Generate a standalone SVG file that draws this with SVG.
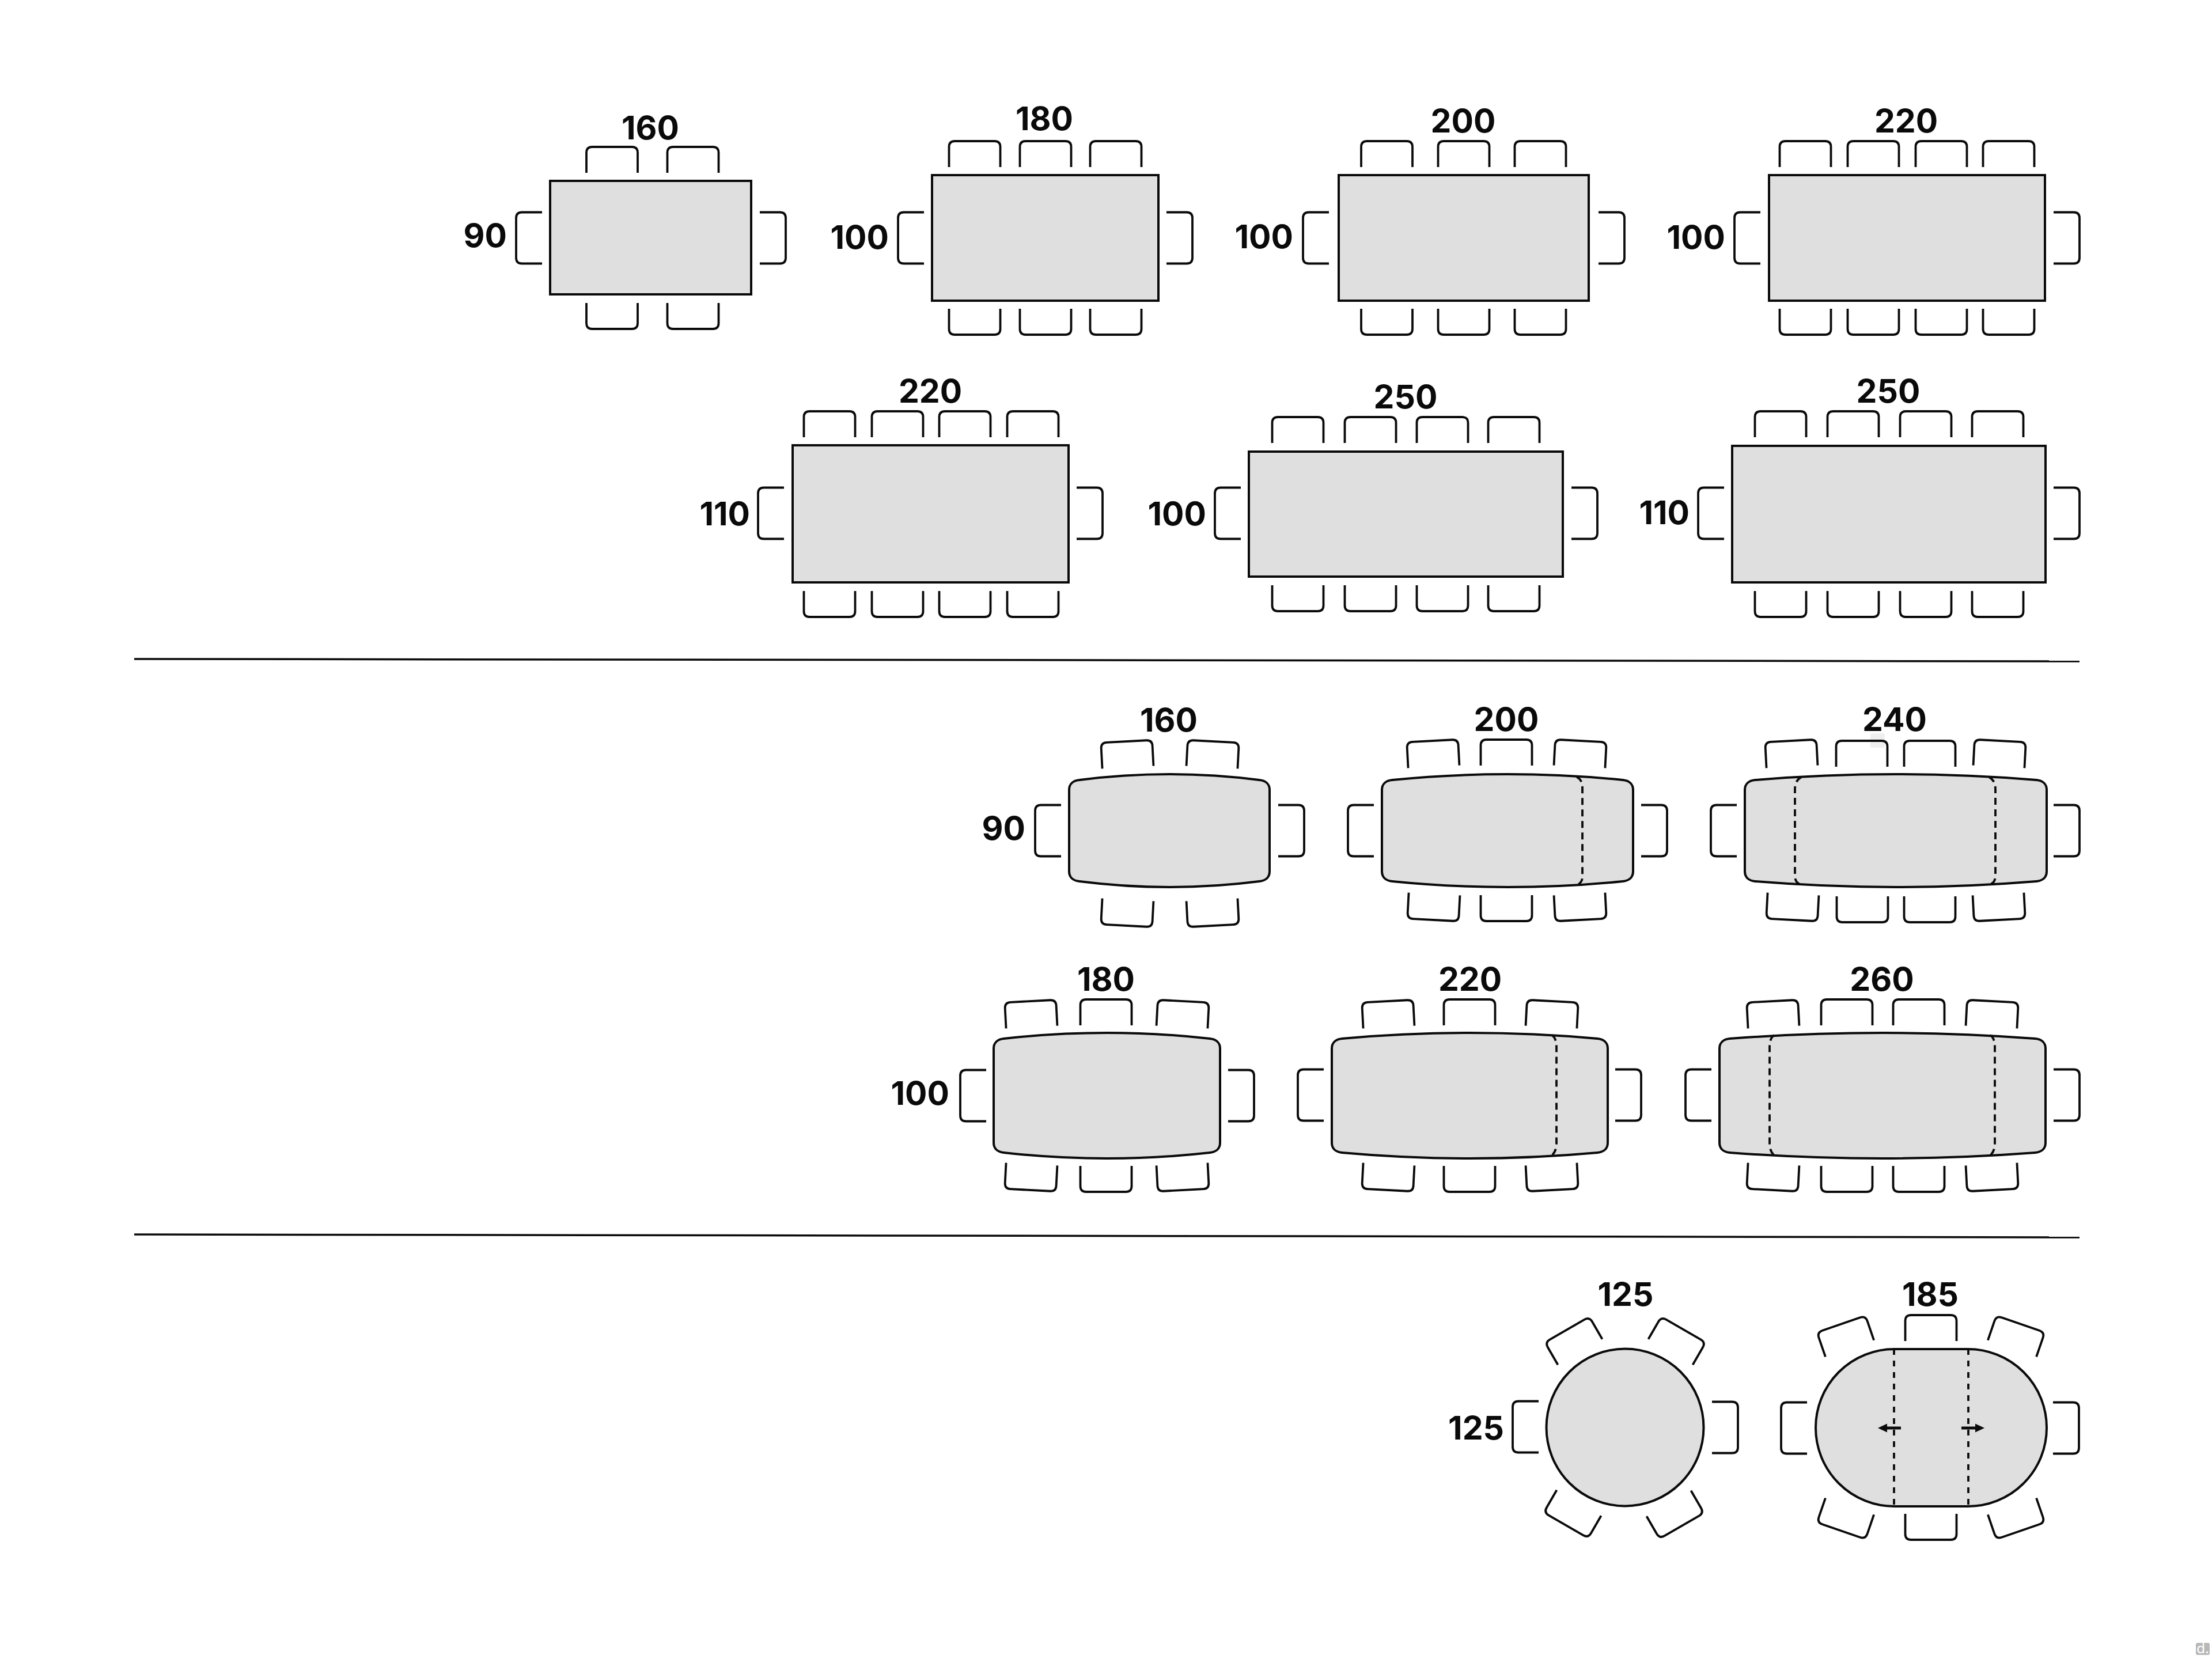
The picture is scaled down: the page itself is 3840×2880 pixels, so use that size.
<svg xmlns="http://www.w3.org/2000/svg" width="3840" height="2880" viewBox="0 0 3840 2880">
<style>
.t{fill:#dfdfdf;stroke:#0a0a0a;stroke-width:4}
.c{fill:none;stroke:#0a0a0a;stroke-width:3.8}
.d{fill:none;stroke:#0a0a0a;stroke-width:3.8;stroke-dasharray:12 8}
.s{fill:none;stroke:#0a0a0a;stroke-width:3.5}
text{font-family:"Inter","Liberation Sans",sans-serif;font-weight:700;font-size:57px;fill:#0a0a0a}
.m{text-anchor:middle}
.e{text-anchor:end}
text.w{font-weight:400;font-size:24px;text-anchor:middle;fill:#fff}
</style>
<defs>
<path id="c" class="c" d="M-44.5 0V-35Q-44.5 -45 -34.5 -45H34.5Q44.5 -45 44.5 -35V0"/>
</defs>
<rect width="3840" height="2880" fill="#fff"/>
<g id="watermarks">
<rect x="3812" y="2852" width="24" height="21" rx="3" fill="#b8b8b8"/>
<text class="w" x="3824" y="2870">d.</text>
<rect x="3247" y="1273" width="25" height="25" rx="3" fill="#efefef"/>
</g>
<g id="separators">
<path class="s" d="M233 1144L3610 1148"/>
<path class="s" d="M233 2143L3610 2148"/>
</g>
<g id="rect-160x90">
<rect class="t" x="955" y="314" width="349" height="197"/>
<use href="#c" transform="translate(1062.5 300)"/><use href="#c" transform="translate(1203 300)"/>
<use href="#c" transform="translate(1062.5 526) rotate(180)"/><use href="#c" transform="translate(1203 526) rotate(180)"/>
<use href="#c" transform="translate(941 413) rotate(-90)"/><use href="#c" transform="translate(1319 413) rotate(90)"/>
<text class="m" x="1129" y="242">160</text><text class="e" x="880" y="429">90</text>
</g>
<g id="rect-180x100">
<rect class="t" x="1618" y="304" width="393" height="218"/>
<use href="#c" transform="translate(1692 290)"/><use href="#c" transform="translate(1815 290)"/><use href="#c" transform="translate(1937 290)"/>
<use href="#c" transform="translate(1692 536) rotate(180)"/><use href="#c" transform="translate(1815 536) rotate(180)"/><use href="#c" transform="translate(1937 536) rotate(180)"/>
<use href="#c" transform="translate(1604 413) rotate(-90)"/><use href="#c" transform="translate(2025 413) rotate(90)"/>
<text class="m" x="1813" y="226">180</text><text class="e" x="1543" y="432">100</text>
</g>
<g id="rect-200x100">
<rect class="t" x="2324" y="304" width="434" height="218"/>
<use href="#c" transform="translate(2407.500 290)"/><use href="#c" transform="translate(2541 290)"/><use href="#c" transform="translate(2674 290)"/>
<use href="#c" transform="translate(2407.500 536) rotate(180)"/><use href="#c" transform="translate(2541 536) rotate(180)"/><use href="#c" transform="translate(2674 536) rotate(180)"/>
<use href="#c" transform="translate(2307 413) rotate(-90)"/><use href="#c" transform="translate(2775 413) rotate(90)"/>
<text class="m" x="2540" y="230">200</text><text class="e" x="2245" y="431">100</text>
</g>
<g id="rect-220x100">
<rect class="t" x="3071" y="304" width="479" height="218"/>
<use href="#c" transform="translate(3134 290)"/><use href="#c" transform="translate(3252 290)"/><use href="#c" transform="translate(3370 290)"/><use href="#c" transform="translate(3487 290)"/>
<use href="#c" transform="translate(3134 536) rotate(180)"/><use href="#c" transform="translate(3252 536) rotate(180)"/><use href="#c" transform="translate(3370 536) rotate(180)"/><use href="#c" transform="translate(3487 536) rotate(180)"/>
<use href="#c" transform="translate(3056 413) rotate(-90)"/><use href="#c" transform="translate(3565 413) rotate(90)"/>
<text class="m" x="3309" y="230">220</text><text class="e" x="2995" y="432">100</text>
</g>
<g id="rect-220x110">
<rect class="t" x="1376" y="773" width="479" height="238"/>
<use href="#c" transform="translate(1440 759)"/><use href="#c" transform="translate(1558 759)"/><use href="#c" transform="translate(1675 759)"/><use href="#c" transform="translate(1793 759)"/>
<use href="#c" transform="translate(1440 1026) rotate(180)"/><use href="#c" transform="translate(1558 1026) rotate(180)"/><use href="#c" transform="translate(1675 1026) rotate(180)"/><use href="#c" transform="translate(1793 1026) rotate(180)"/>
<use href="#c" transform="translate(1361 891) rotate(-90)"/><use href="#c" transform="translate(1869 891) rotate(90)"/>
<text class="m" x="1615" y="699">220</text><text class="e" x="1302" y="912">110</text>
</g>
<g id="rect-250x100">
<rect class="t" x="2168" y="784" width="545" height="217"/>
<use href="#c" transform="translate(2253 769)"/><use href="#c" transform="translate(2379 769)"/><use href="#c" transform="translate(2504 769)"/><use href="#c" transform="translate(2628 769)"/>
<use href="#c" transform="translate(2253 1016) rotate(180)"/><use href="#c" transform="translate(2379 1016) rotate(180)"/><use href="#c" transform="translate(2504 1016) rotate(180)"/><use href="#c" transform="translate(2628 1016) rotate(180)"/>
<use href="#c" transform="translate(2154 891) rotate(-90)"/><use href="#c" transform="translate(2728 891) rotate(90)"/>
<text class="m" x="2440" y="709">250</text><text class="e" x="2094" y="912">100</text>
</g>
<g id="rect-250x110">
<rect class="t" x="3007" y="774" width="544" height="237"/>
<use href="#c" transform="translate(3091 759)"/><use href="#c" transform="translate(3217 759)"/><use href="#c" transform="translate(3343 759)"/><use href="#c" transform="translate(3468 759)"/>
<use href="#c" transform="translate(3091 1026) rotate(180)"/><use href="#c" transform="translate(3217 1026) rotate(180)"/><use href="#c" transform="translate(3343 1026) rotate(180)"/><use href="#c" transform="translate(3468 1026) rotate(180)"/>
<use href="#c" transform="translate(2993 891) rotate(-90)"/><use href="#c" transform="translate(3565 891) rotate(90)"/>
<text class="m" x="3278" y="699">250</text><text class="e" x="2933" y="910">110</text>
</g>
<g id="barrel-160x90">
<path class="t" d="M1856 1371c0-10 7-16 18-17q156-20 312 0c11 1 18 7 18 17v142c0 10-7 16-18 17q-156 20-312 0c-11-1-18-7-18-17z"/>
<use href="#c" transform="translate(1958 1332) rotate(-3)"/><use href="#c" transform="translate(2104 1332) rotate(3)"/>
<use href="#c" transform="translate(1958 1562) rotate(183)"/><use href="#c" transform="translate(2104 1562) rotate(177)"/>
<use href="#c" transform="translate(1842 1442) rotate(-90)"/><use href="#c" transform="translate(2219 1442) rotate(90)"/>
<text class="m" x="2029" y="1270">160</text><text class="e" x="1780" y="1458">90</text>
</g>
<g id="barrel-200x90">
<path class="t" d="M2399 1371c0-10 7-16 18-17q200-20 400 0c11 1 18 7 18 17v142c0 10-7 16-18 17q-200 20-400 0c-11-1-18-7-18-17z"/>
<path class="d" d="M2737 1349Q2747 1353 2747 1368V1522Q2747 1532 2738 1536"/>
<use href="#c" transform="translate(2489 1331) rotate(-3)"/><use href="#c" transform="translate(2615 1329)"/><use href="#c" transform="translate(2742 1331) rotate(3)"/>
<use href="#c" transform="translate(2490 1552) rotate(183)"/><use href="#c" transform="translate(2615 1554) rotate(180)"/><use href="#c" transform="translate(2742 1552) rotate(177)"/>
<use href="#c" transform="translate(2385 1442) rotate(-90)"/><use href="#c" transform="translate(2849 1442) rotate(90)"/>
<text class="m" x="2615" y="1269">200</text>
</g>
<g id="barrel-240x90">
<path class="t" d="M3029 1371c0-10 7-16 18-17q244-20 488 0c11 1 18 7 18 17v142c0 10-7 16-18 17q-244 20-488 0c-11-1-18-7-18-17z"/>
<path class="d" d="M3127 1349Q3116 1355 3116 1370V1520Q3116 1532 3125 1535"/>
<path class="d" d="M3453 1349Q3464 1355 3464 1370V1520Q3464 1532 3455 1535"/>
<use href="#c" transform="translate(3111 1331) rotate(-3)"/><use href="#c" transform="translate(3232 1331)"/><use href="#c" transform="translate(3350 1331)"/><use href="#c" transform="translate(3470 1331) rotate(3)"/>
<use href="#c" transform="translate(3113 1552) rotate(183)"/><use href="#c" transform="translate(3233 1556) rotate(180)"/><use href="#c" transform="translate(3350 1556) rotate(180)"/><use href="#c" transform="translate(3469 1552) rotate(177)"/>
<use href="#c" transform="translate(3015 1442) rotate(-90)"/><use href="#c" transform="translate(3565 1442) rotate(90)"/>
<text class="m" x="3289" y="1269">240</text>
</g>
<g id="barrel-180x100">
<path class="t" d="M1725 1820c0-10 7-16 18-17q178.500-20 357 0c11 1 18 7 18 17v164c0 10-7 16-18 17q-178.500 20-357 0c-11-1-18-7-18-17z"/>
<use href="#c" transform="translate(1791 1783) rotate(-3)"/><use href="#c" transform="translate(1920 1780)"/><use href="#c" transform="translate(2052 1783) rotate(3)"/>
<use href="#c" transform="translate(1791 2021) rotate(183)"/><use href="#c" transform="translate(1920 2024) rotate(180)"/><use href="#c" transform="translate(2052 2021) rotate(177)"/>
<use href="#c" transform="translate(1712 1902) rotate(-90)"/><use href="#c" transform="translate(2132 1902) rotate(90)"/>
<text class="m" x="1920" y="1720">180</text><text class="e" x="1648" y="1918">100</text>
</g>
<g id="barrel-220x100">
<path class="t" d="M2312 1820c0-10 7-16 18-17q221.500-20 443 0c11 1 18 7 18 17v164c0 10-7 16-18 17q-221.500 20-443 0c-11-1-18-7-18-17z"/>
<path class="d" d="M2694 1797Q2702 1802 2702 1818V1986Q2702 1998 2694 2006"/>
<use href="#c" transform="translate(2411 1783) rotate(-3)"/><use href="#c" transform="translate(2551 1780)"/><use href="#c" transform="translate(2693 1783) rotate(3)"/>
<use href="#c" transform="translate(2411 2021) rotate(183)"/><use href="#c" transform="translate(2551 2024) rotate(180)"/><use href="#c" transform="translate(2693 2021) rotate(177)"/>
<use href="#c" transform="translate(2298 1901) rotate(-90)"/><use href="#c" transform="translate(2804 1901) rotate(90)"/>
<text class="m" x="2552" y="1720">220</text>
</g>
<g id="barrel-260x100">
<path class="t" d="M2985 1820c0-10 7-16 18-17q265-20 530 0c11 1 18 7 18 17v164c0 10-7 16-18 17q-265 20-530 0c-11-1-18-7-18-17z"/>
<path class="d" d="M3080 1797Q3072 1802 3072 1818V1986Q3072 1998 3080 2006"/>
<path class="d" d="M3455 1797Q3463 1802 3463 1818V1986Q3463 1998 3455 2006"/>
<use href="#c" transform="translate(3079 1783) rotate(-3)"/><use href="#c" transform="translate(3206 1780)"/><use href="#c" transform="translate(3331 1780)"/><use href="#c" transform="translate(3457 1783) rotate(3)"/>
<use href="#c" transform="translate(3079 2021) rotate(183)"/><use href="#c" transform="translate(3206 2024) rotate(180)"/><use href="#c" transform="translate(3331 2024) rotate(180)"/><use href="#c" transform="translate(3457 2021) rotate(177)"/>
<use href="#c" transform="translate(2971 1901) rotate(-90)"/><use href="#c" transform="translate(3565 1901) rotate(90)"/>
<text class="m" x="3267" y="1720">260</text>
</g>
<g id="round-125">
<circle class="t" cx="2821" cy="2478" r="136.500"/>
<use href="#c" transform="translate(2743 2347) rotate(-30)"/><use href="#c" transform="translate(2900 2347) rotate(30)"/>
<use href="#c" transform="translate(2741 2609) rotate(210)"/><use href="#c" transform="translate(2897 2610) rotate(150)"/>
<use href="#c" transform="translate(2671 2477) rotate(-90)"/><use href="#c" transform="translate(2972 2478) rotate(90)"/>
<text class="m" x="2822" y="2267">125</text><text class="e" x="2611" y="2499">125</text>
</g>
<g id="oval-185">
<rect class="t" x="3152" y="2342" width="401" height="273" rx="136.500"/>
<path class="d" style="stroke-dasharray:10 10" d="M3288 2342V2615M3417 2342V2615"/>
<path d="M3300 2479H3274" fill="none" stroke="#0a0a0a" stroke-width="5"/><path d="M3260 2479L3276 2471.500V2486.500Z" fill="#0a0a0a"/>
<path d="M3405 2479H3431" fill="none" stroke="#0a0a0a" stroke-width="5"/><path d="M3445 2479L3429 2471.500V2486.500Z" fill="#0a0a0a"/>
<use href="#c" transform="translate(3211 2341) rotate(-19)"/><use href="#c" transform="translate(3352 2328)"/><use href="#c" transform="translate(3493 2341) rotate(19)"/>
<use href="#c" transform="translate(3211 2615) rotate(199)"/><use href="#c" transform="translate(3352 2628) rotate(180)"/><use href="#c" transform="translate(3493 2615) rotate(161)"/>
<use href="#c" transform="translate(3137 2479) rotate(-90)"/><use href="#c" transform="translate(3564 2479) rotate(90)"/>
<text class="m" x="3351" y="2267">185</text>
</g>
</svg>
